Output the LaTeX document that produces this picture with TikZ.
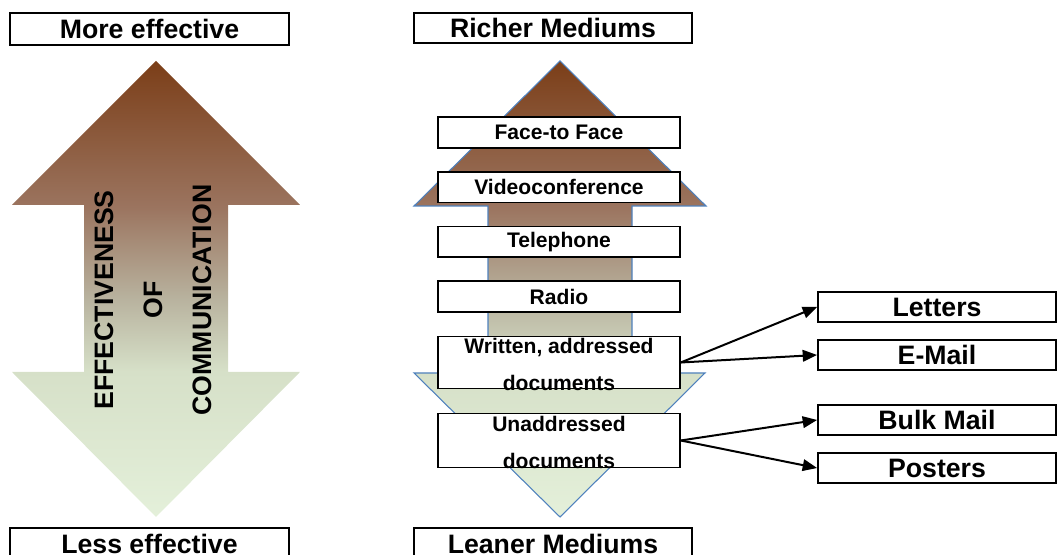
\documentclass[tikz,border=0pt]{standalone}
\usepackage{fontspec}
\setmainfont{Liberation Sans}
\usetikzlibrary{arrows,positioning}
\definecolor{arrowtop}{RGB}{123,62,24}
\definecolor{arrowupper}{RGB}{155,116,95}
\definecolor{arrowmid}{RGB}{184,178,158}
\definecolor{arrowlower}{RGB}{214,224,200}
\definecolor{arrowbot}{RGB}{228,240,218}
\definecolor{arrowline}{RGB}{79,129,189}
\pgfdeclareverticalshading{richness}{100bp}{color(0bp)=(arrowbot); color(25bp)=(arrowbot);
	color(41bp)=(arrowlower); color(49bp)=(arrowmid); color(59bp)=(arrowupper);
	color(75bp)=(arrowtop); color(100bp)=(arrowtop)}
\tikzset{RANK style/.style={x=0.75pt,y=0.75pt,>=triangle 45,node distance=41pt}}
\newcommand{\twolines}[2]{\smash{\raisebox{-5pt}{\begin{tabular}{@{}c@{}}#1\\#2\end{tabular}}}}

\begin{document}
\begin{tikzpicture}[RANK style]
	\tikzstyle{endlabel}=[draw, line width=1.5pt, inner sep=0pt, minimum width=209pt,
	minimum height=24pt, font=\bfseries\fontsize{20}{22}\selectfont]
	\tikzstyle{medium}=[draw, fill=white, line width=1.1pt, inner sep=0pt,
	minimum width=181.5pt, minimum height=23pt, font=\bfseries\fontsize{15.8}{27.75}\selectfont]
	\tikzstyle{outlet}=[draw, line width=1.5pt, inner sep=0pt, minimum width=178.5pt,
	minimum height=22.5pt, font=\bfseries\fontsize{20}{22}\selectfont]
	\tikzstyle{bigarrow}=[shading=richness]
	\useasboundingbox (0,0) rectangle (1057,555);

	% effectiveness scale
	\path[bigarrow] (156,494) -- (300,350) -- (228,350) -- (228,183) -- (300,183)
	-- (156,38) -- (12,183) -- (84,183) -- (84,350) -- (12,350) -- cycle;
	\node[rotate=90, align=center, font=\bfseries\fontsize{20}{36.75}\selectfont]
	(eff) at (153,255) {EFFECTIVENESS\\OF\\COMMUNICATION};
	\node[endlabel] (more) at (149.5,526) {More effective};
	\node[endlabel] (less) at (149.5,11) {Less effective};

	% richness of mediums
	\path[bigarrow, draw=arrowline, line width=0.8pt] (560,494) -- (706,349) -- (632,349)
	-- (632,182) -- (705,182) -- (560,38) -- (414,182) -- (488,182) -- (488,349)
	-- (414,349) -- cycle;
	\node[endlabel, minimum width=208.5pt, minimum height=22.5pt] (rich) at (553,527) {Richer Mediums};
	\node[endlabel, minimum width=208.5pt] (lean) at (553,11) {Leaner Mediums};

	\node[medium] (face) at (559,422.5) {Face-to Face};
	\node[medium] [below of=face] (video) {Videoconference};
	\node[medium] [below of=video] (phone) {Telephone};
	\node[medium] [below of=phone] (radio) {Radio};
	\node[medium, minimum height=39pt] [below of=radio, yshift=-8.5pt] (written)
	{\twolines{Written, addressed}{documents}};
	\node[medium, minimum height=40.5pt] [below of=written, yshift=-17.5pt] (unaddr)
	{\twolines{Unaddressed}{documents}};

	\node[outlet] (letters) at (937,248) {Letters};
	\node[outlet] [below of=letters, node distance=36pt] (email) {E-Mail};
	\node[outlet] (bulk) at (937,135) {Bulk Mail};
	\node[outlet] [below of=bulk, node distance=36pt] (posters) {Posters};

	\path[->, line width=1.5pt]
	(written.east) edge (letters.west)
	(written.east) edge (email.west)
	(unaddr.east) edge (bulk.west)
	(unaddr.east) edge (posters.west)
	;
\end{tikzpicture}
\end{document}
